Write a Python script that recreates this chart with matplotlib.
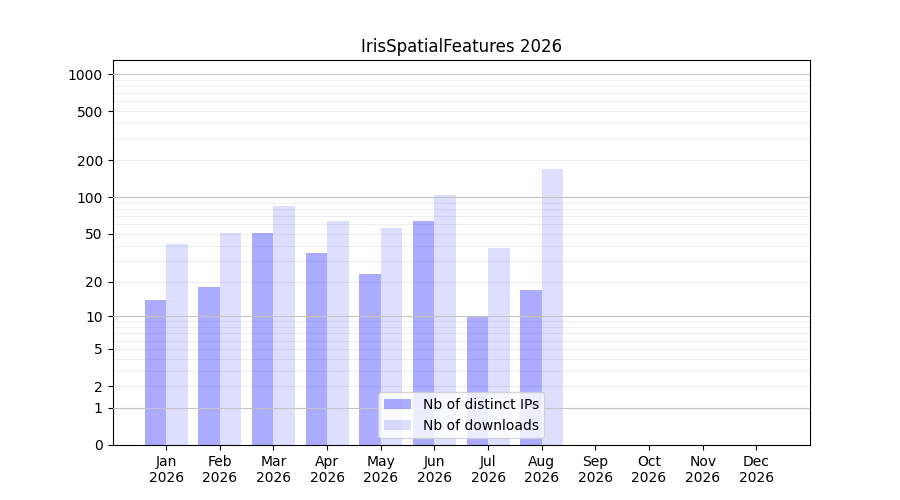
import numpy as np
import matplotlib.pyplot as plt

# Données
mois = ["Jan", "Feb", "Mar", "Apr", "May", "Jun", "Jul", "Aug", "Sep", "Oct", "Nov", "Dec"]
annee = 2026
ips = [14, 18, 51, 35, 23, 64, 10, 17, 0, 0, 0, 0]
downloads = [41, 51, 85, 64, 56, 105, 38, 171, 0, 0, 0, 0]

yticks = [0, 1, 2, 5, 10, 20, 50, 100, 200, 500, 1000]

def fwd(y):
    return np.log10(1 + np.asarray(y, dtype=float))

def inv(y):
    return 10 ** np.asarray(y, dtype=float) - 1

x = np.arange(1, len(mois) + 1)

fig, ax = plt.subplots(figsize=(9, 5), dpi=100)
ax.bar(x - 0.2, ips, width=0.4, color="blue", alpha=0.33, label="Nb of distinct IPs")
ax.bar(x + 0.2, downloads, width=0.4, color="blue", alpha=0.13, label="Nb of downloads")

ax.set_yscale("function", functions=(fwd, inv))
ax.set_ylim(0, 1300)
ax.set_xlim(0, 13)
ax.set_yticks(yticks)
ax.set_yticklabels([str(t) for t in yticks])

# grille : décades plus foncées, le reste très clair
mineurs = [m * 10 ** d for d in range(0, 3) for m in range(2, 10)]
for m in mineurs:
    ax.axhline(m, color="#eeeeee", lw=0.8, zorder=0)
for d in [1, 10, 100, 1000]:
    ax.axhline(d, color="#c4c4c4", lw=0.8, zorder=3)

ax.set_xticks(x)
ax.set_xticklabels([f"{m}\n{annee}" for m in mois])
ax.set_title(f"IrisSpatialFeatures {annee}")
ax.legend(loc="lower center")

plt.savefig("out.png")
